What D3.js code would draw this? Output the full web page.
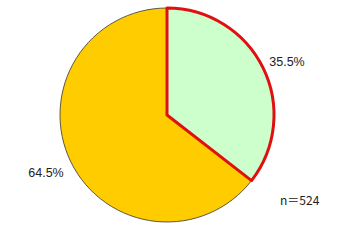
<!DOCTYPE html>
<html><head><meta charset="utf-8">
<script src="https://cdn.jsdelivr.net/npm/d3@7"></script>
<style>html,body{margin:0;padding:0;background:#fff;}svg{display:block;}</style>
</head><body>
<svg id="c" width="360" height="240"></svg>
<script>
const categories = ["A", "B"];
const values = [35.5, 64.5];
const labels = ["35.5%", "64.5%"];
const nLabel = "n＝524";
const colors = ["#CCFFCC", "#FFCC00"];
const strokes = ["#E01010", "#333"];
const strokeW = [3, 0.8];

const svg = d3.select("#c");
const cx = 167, cy = 115, r = 107;
const g = svg.append("g").attr("transform", `translate(${cx},${cy})`);
const pie = d3.pie().sort(null).value(d => d)(values);
const arc = d3.arc().innerRadius(0).outerRadius(r);
// draw yellow first, then green (with red outline) on top
const order = [1, 0];
order.forEach(i => {
  g.append("path").attr("d", arc(pie[i]))
    .attr("fill", colors[i]).attr("stroke", strokes[i])
    .attr("stroke-width", strokeW[i]).attr("stroke-linejoin", "round");
});
const font = "Arial, 'Liberation Sans', sans-serif";
svg.append("text").attr("x", 287).attr("y", 66).attr("text-anchor", "middle")
  .attr("font-family", font).attr("font-size", 12.5).attr("fill", "#222").text(labels[0]);
svg.append("text").attr("x", 46).attr("y", 177).attr("text-anchor", "middle")
  .attr("font-family", font).attr("font-size", 12.5).attr("fill", "#222").text(labels[1]);
svg.append("text").attr("x", 280).attr("y", 205)
  .attr("font-family", "'Noto Sans CJK JP', sans-serif").attr("font-size", 12).attr("fill", "#222").text(nLabel);
</script>
</body></html>
